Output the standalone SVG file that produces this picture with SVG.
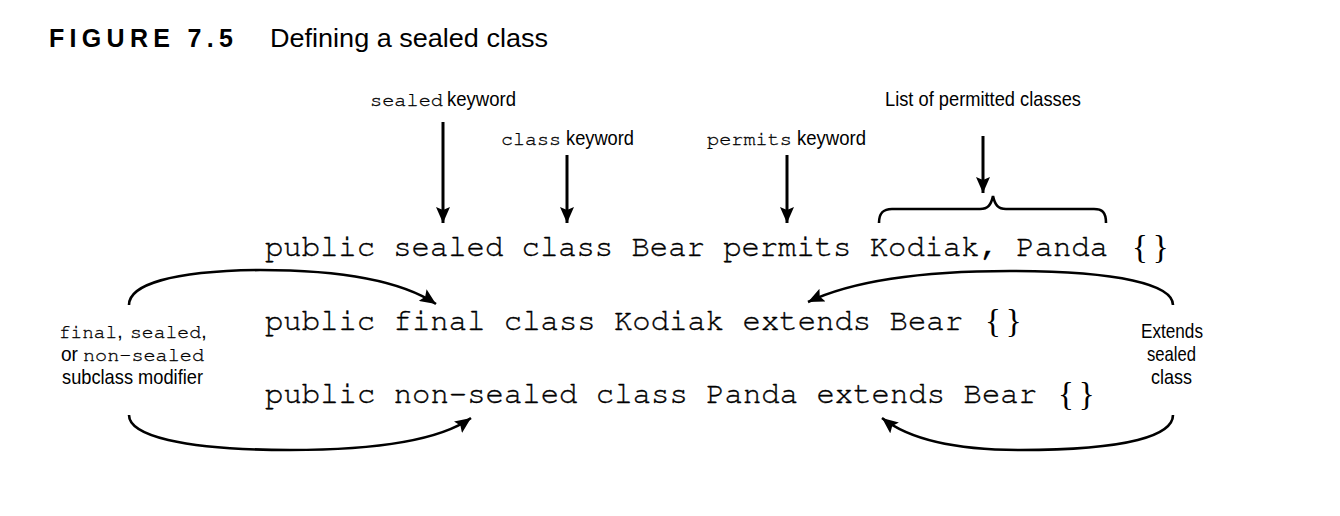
<svg xmlns="http://www.w3.org/2000/svg" width="1340" height="516" viewBox="0 0 1340 516">
<style>
.code{font-family:"Nimbus Mono PS","Nimbus Mono L","FreeMono","Courier New","Liberation Mono",monospace;font-size:30.6px;fill:#000;stroke:#000;stroke-width:0.35}
.brace{font-family:"Liberation Serif",serif;font-size:33px;fill:#000}
.lbl{font-family:"Liberation Sans",Arial,sans-serif;font-size:21px;fill:#000}
.mono{font-family:"Nimbus Mono PS","Nimbus Mono L","FreeMono","Courier New","Liberation Mono",monospace;font-size:20px;fill:#000;stroke:#000;stroke-width:0.3}
.ln{fill:none;stroke:#000;stroke-width:3}
.cv{fill:none;stroke:#000;stroke-width:2.6}
</style>
<defs>
<marker id="ah" markerUnits="userSpaceOnUse" viewBox="0 0 16 14" refX="16" refY="7" markerWidth="16" markerHeight="14" orient="auto">
<path d="M0,0 L16,7 L0,14 L3,7 Z" fill="#000"/>
</marker>
</defs>
<rect width="1340" height="516" fill="#fff"/>
<g id="title">
<text x="49" y="47" font-family="Liberation Sans,Arial,sans-serif" font-weight="bold" font-size="25" letter-spacing="5.3">FIGURE 7.5</text>
<text x="270" y="47" font-family="Liberation Sans,Arial,sans-serif" font-size="26" textLength="278" lengthAdjust="spacingAndGlyphs">Defining a sealed class</text>
</g>
<g id="code">
<text class="code" x="265" y="256" textLength="843" lengthAdjust="spacing">public sealed class Bear permits Kodiak, Panda</text>
<text class="brace" x="1132" y="258" letter-spacing="5">{}</text>
<text class="code" x="265" y="330" textLength="698" lengthAdjust="spacing">public final class Kodiak extends Bear</text>
<text class="brace" x="985" y="332" letter-spacing="5">{}</text>
<text class="code" x="265" y="403" textLength="772" lengthAdjust="spacing">public non-sealed class Panda extends Bear</text>
<text class="brace" x="1058" y="405" letter-spacing="5">{}</text>
</g>
<g id="lbl-sealed">
<text class="mono" x="370" y="106" textLength="73" lengthAdjust="spacingAndGlyphs">sealed</text>
<text class="lbl" x="447" y="106" textLength="69" lengthAdjust="spacingAndGlyphs">keyword</text>
</g>
<g id="lbl-class">
<text class="mono" x="501" y="145" textLength="60" lengthAdjust="spacingAndGlyphs">class</text>
<text class="lbl" x="566" y="145" textLength="68" lengthAdjust="spacingAndGlyphs">keyword</text>
</g>
<g id="lbl-permits">
<text class="mono" x="707" y="145" textLength="85" lengthAdjust="spacingAndGlyphs">permits</text>
<text class="lbl" x="797" y="145" textLength="69" lengthAdjust="spacingAndGlyphs">keyword</text>
</g>
<g id="lbl-list"><text class="lbl" x="885" y="106" textLength="196" lengthAdjust="spacingAndGlyphs">List of permitted classes</text></g>
<g id="lbl-modifier">
<text class="mono" x="59" y="338" textLength="58" lengthAdjust="spacingAndGlyphs">final</text>
<text class="lbl" x="117" y="338">,</text>
<text class="mono" x="130" y="338" textLength="71" lengthAdjust="spacingAndGlyphs">sealed</text>
<text class="lbl" x="201" y="338">,</text>
<text class="lbl" x="61" y="361" textLength="17" lengthAdjust="spacingAndGlyphs">or</text>
<text class="mono" x="83" y="361" textLength="121" lengthAdjust="spacingAndGlyphs">non-sealed</text>
<text class="lbl" x="62" y="384" textLength="141" lengthAdjust="spacingAndGlyphs">subclass modifier</text>
</g>
<g id="lbl-extends">
<text class="lbl" x="1141" y="338" textLength="62" lengthAdjust="spacingAndGlyphs">Extends</text>
<text class="lbl" x="1147" y="361" textLength="49" lengthAdjust="spacingAndGlyphs">sealed</text>
<text class="lbl" x="1151" y="384" textLength="41" lengthAdjust="spacingAndGlyphs">class</text>
</g>
<g id="connectors">
<line class="ln" x1="443" y1="122" x2="443" y2="223" marker-end="url(#ah)"/>
<line class="ln" x1="567" y1="155" x2="567" y2="223" marker-end="url(#ah)"/>
<line class="ln" x1="787" y1="155" x2="787" y2="223" marker-end="url(#ah)"/>
<line class="ln" x1="983" y1="136" x2="983" y2="193" marker-end="url(#ah)"/>
<path class="cv" d="M879,223 C879,212 884,209 892,209 L980,209 C988,209 991,205 993,196 C995,205 998,209 1006,209 L1094,209 C1102,209 1106,212 1106,223"/>
<path class="cv" d="M129,305 C129,285 170,271 260,270 C340,270 400,280 436,304" marker-end="url(#ah)"/>
<path class="cv" d="M129,415 C129,435 180,450 290,450 C380,450 440,440 471,418" marker-end="url(#ah)"/>
<path class="cv" d="M1173,305 C1173,285 1120,271 1010,271 C920,271 850,282 808,302" marker-end="url(#ah)"/>
<path class="cv" d="M1173,415 C1173,435 1130,450 1020,450 C960,450 910,440 882,418" marker-end="url(#ah)"/>
</g>
</svg>
